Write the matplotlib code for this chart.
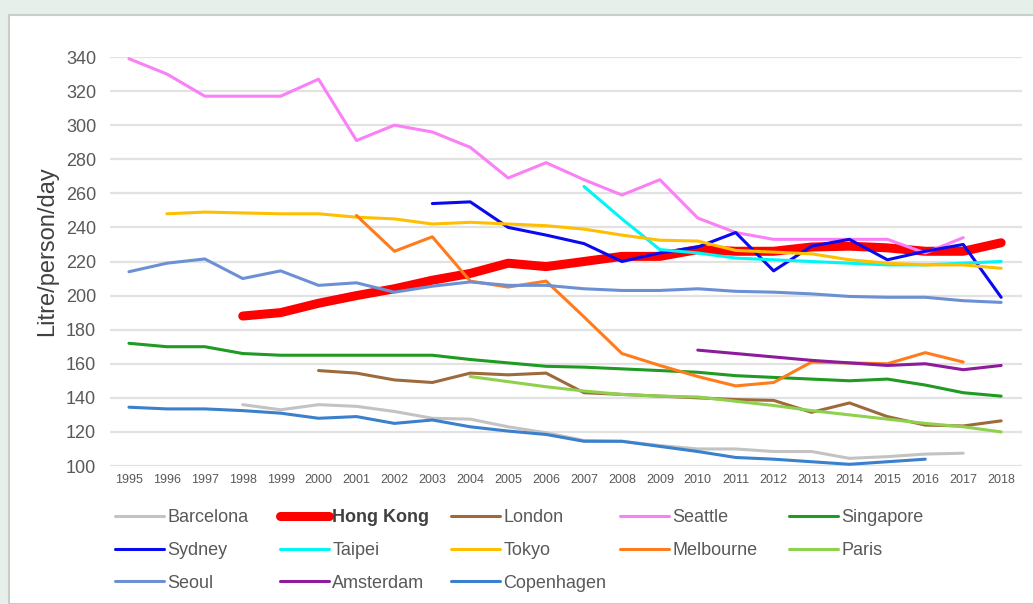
import numpy as np
import matplotlib.pyplot as plt
from matplotlib.lines import Line2D
from matplotlib.patches import Rectangle

plt.rcParams['font.family'] = ['Liberation Sans', 'DejaVu Sans']

nan = np.nan
years = list(range(1995, 2019))

# litre/person/day, one value per year 1995-2018 (nan = no data)
barcelona = [nan, nan, nan, 136, 133, 136, 135, 132, 128, 127.5, 123, 119.5,
             115, 114.5, 112, 110, 110, 108.5, 108.5, 104.5, 105.5, 107, 107.5, nan]
hong_kong = [nan, nan, nan, 188, 190, 195.5, 200, 204, 209, 213, 219, 217,
             220, 223, 223, 227, 226, 226, 228.5, 229, 228, 226, 226, 231]
london = [nan, nan, nan, nan, nan, 156, 154.5, 150.5, 149, 154.5, 153.5, 154.5,
          143, 142, 141, 140, 139, 138.5, 131.5, 137, 129, 124, 123.5, 126.5]
seattle = [339, 330, 317, 317, 317, 327, 291, 300, 296, 287, 269, 278,
           268, 259, 268, 245.5, 237, 233, 233, 233, 233, 225, 234, nan]
singapore = [172, 170, 170, 166, 165, 165, 165, 165, 165, 162.5, 160.5, 158.5,
             158, 157, 156, 155, 153, 152, 151, 150, 151, 147.5, 143, 141]
sydney = [nan, nan, nan, nan, nan, nan, nan, nan, 254, 255, 240, 235.5,
          230.5, 220, 225, 228.5, 237, 214.5, 229, 233, 221, 226, 230, 199]
taipei = [nan, nan, nan, nan, nan, nan, nan, nan, nan, nan, nan, nan,
          264, 245, 227, 225, 222, 221, 220, 219, 218, 218, 219, 220]
tokyo = [nan, 248, 249, 248.5, 248, 248, 246, 245, 242, 243, 242, 241,
         239, 235.5, 232.5, 232, 226.5, 225.5, 224.5, 221, 219, 218, 218, 216]
melbourne = [nan, nan, nan, nan, nan, nan, 247, 226, 234.5, 208.5, 205, 208.5,
             187.5, 166, 159, 152.5, 147, 149, 161, 160.5, 160, 166.5, 161, nan]
paris = [nan, nan, nan, nan, nan, nan, nan, nan, nan, 152.5, 149.5, 146.5,
         144, 142, 141, 140.5, 138, 135.5, 132.5, 130, 127.5, 125, 123, 120]
seoul = [214, 219, 221.5, 210, 214.5, 206, 207.5, 202, 205.5, 208, 206, 206,
         204, 203, 203, 204, 202.5, 202, 201, 199.5, 199, 199, 197, 196]
amsterdam = [nan] * 15 + [168, 166, 164, 162, 160.5, 159, 160, 156.5, 159]
copenhagen = [134.5, 133.5, 133.5, 132.5, 131, 128, 129, 125, 127, 123, 120.5, 118.5,
              114.5, 114.5, 111.5, 108.5, 105, 104, 102.5, 101, 102.5, 104, nan, nan]

series = [
    ("Barcelona", barcelona, "#c3c3c3", 2.2),
    ("Hong Kong", hong_kong, "#ff0000", 6.5),
    ("London", london, "#9d6a3c", 2.2),
    ("Seattle", seattle, "#fa80f5", 2.2),
    ("Singapore", singapore, "#1f9a22", 2.2),
    ("Sydney", sydney, "#0a0af0", 2.2),
    ("Taipei", taipei, "#00f5f5", 2.2),
    ("Tokyo", tokyo, "#ffbf00", 2.2),
    ("Melbourne", melbourne, "#ff7c1c", 2.2),
    ("Paris", paris, "#8fd14f", 2.2),
    ("Seoul", seoul, "#6d90d4", 2.2),
    ("Amsterdam", amsterdam, "#8e1a9c", 2.2),
    ("Copenhagen", copenhagen, "#3a80cc", 2.2),
]

W, H = 1033, 604
fig = plt.figure(figsize=(W / 100, H / 100), dpi=100)
fig.patch.set_facecolor("#e6efe9")
fig.patches.append(Rectangle((9 / W, 0), 1, 1 - 15 / H, transform=fig.transFigure,
                             facecolor="white", edgecolor="#c9cdc9", lw=1.5, zorder=-5))

ax = fig.add_axes([110 / W, 1 - 466 / H, 912 / W, 409 / H])
ax.set_facecolor("none")

handles = {}
for name, vals, color, lw in series:
    ax.plot(years, vals, color=color, lw=lw, solid_capstyle="round",
            solid_joinstyle="round", label=name)
    handles[name] = Line2D([], [], color=color, lw=lw, solid_capstyle="round")

ax.set_xlim(1994.5, 2018.55)
ax.set_ylim(100, 340)
ax.set_yticks(range(100, 341, 20))
ax.set_xticks(years)
ax.set_xticklabels([str(y) for y in years])
ax.grid(axis="y", color="#e2e2e2", lw=1.6)
ax.set_axisbelow(True)
for s in ax.spines.values():
    s.set_visible(False)
ax.tick_params(axis="y", length=0, pad=10, labelsize=13, labelcolor="#595959")
ax.tick_params(axis="x", length=0, pad=5.5, labelsize=9, labelcolor="#595959")

fig.text(47 / W, 1 - 251 / H, "Litre/person/day", rotation=90, fontsize=17,
         color="#404040", ha="center", va="center")

# legend laid out in five columns
columns = [
    (115, ["Barcelona", "Sydney", "Seoul"]),
    (280, ["Hong Kong", "Taipei", "Amsterdam"]),
    (451, ["London", "Tokyo", "Copenhagen"]),
    (620, ["Seattle", "Melbourne"]),
    (789, ["Singapore", "Paris"]),
]
for x0, names in columns:
    leg = fig.legend([handles[n] for n in names], names, loc="upper left",
                     bbox_to_anchor=(x0 / W, 1 - 509 / H), frameon=False,
                     fontsize=13, handlelength=2.7, handletextpad=0.2,
                     labelspacing=0.88, borderpad=0, borderaxespad=0)
    for t in leg.get_texts():
        t.set_color("#595959")
        if t.get_text() == "Hong Kong":
            t.set_fontweight("bold")
            t.set_color("#404040")

fig.savefig("out.png", dpi=100, facecolor=fig.get_facecolor())
